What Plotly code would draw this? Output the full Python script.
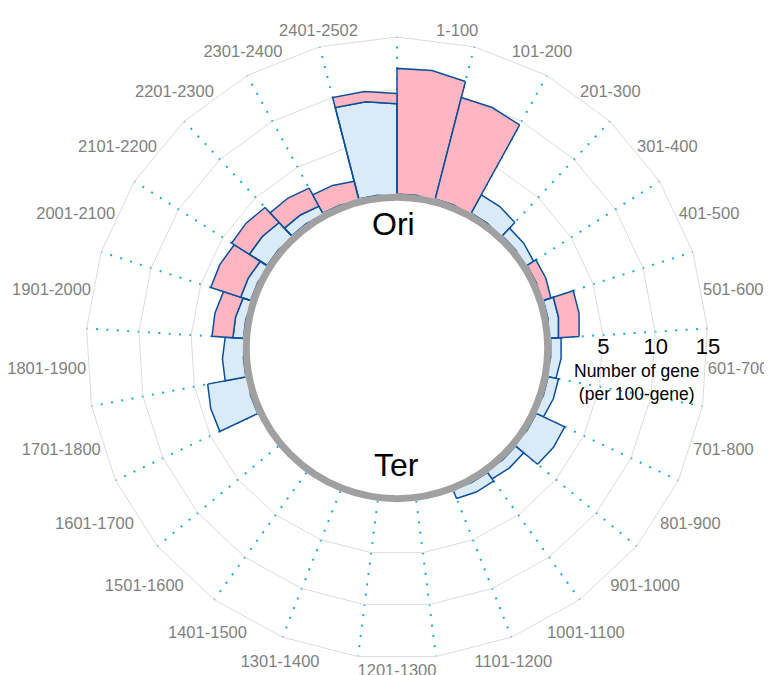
import plotly.graph_objects as go

# ---- data -------------------------------------------------------------
categories = [
    "1-100", "101-200", "201-300", "301-400", "401-500", "501-600",
    "601-700", "701-800", "801-900", "901-1000", "1001-1100", "1101-1200",
    "1201-1300", "1301-1400", "1401-1500", "1501-1600", "1601-1700",
    "1701-1800", "1801-1900", "1901-2000", "2001-2100", "2101-2200",
    "2201-2300", "2301-2400", "2401-2502",
]
blue_counts = [0, 0, 2, 1, 0, 1, 1, 1, 3, 1, 1, 0, 0, 0, 0, 0, 0, 4, 2, 1, 1, 2, 1, 0, 9]
pink_counts = [12, 10, 0, 0, 1, 2, 0, 0, 0, 0, 0, 0, 0, 0, 0, 0, 0, 0, 0, 2, 3, 2, 2, 2, 1]
radial_ticks = [5, 10, 15]
radial_ticktext = ["5", "10", "15"]
radial_range = [0, 15]
axis_title = "Number of gene<br>(per 100-gene)"
ori_label = "Ori"
ter_label = "Ter"

# ---- derived ----------------------------------------------------------
n = len(categories)
step = 360.0 / n
mid_angles = [i * step + step / 2 for i in range(n)]

FONT = "Arial, Liberation Sans, sans-serif"
HOLE = 0.495
DOMAIN = dict(x=[0, 1], y=[0, 1])

fig = go.Figure()

fig.add_trace(go.Barpolar(
    r=blue_counts, theta=categories, subplot="polar",
    offset=0, width=1,
    marker=dict(color="#DAEAF7", line=dict(color="#0B4F9C", width=1.5)),
    hoverinfo="theta+r", name="blue",
))
fig.add_trace(go.Barpolar(
    r=pink_counts, theta=categories, subplot="polar",
    offset=0, width=1,
    marker=dict(color="#FFB6C1", line=dict(color="#0B4F9C", width=1.5)),
    hoverinfo="theta+r", name="pink",
))
# radial tick labels, placed on the east direction of the label polar
fig.add_trace(go.Scatterpolar(
    r=radial_ticks, theta=[90] * len(radial_ticks), subplot="polar2",
    mode="text", text=radial_ticktext,
    textfont=dict(size=22, color="black", family=FONT),
    textposition="middle center", cliponaxis=False, hoverinfo="skip",
))

fig.update_layout(
    width=764, height=667,
    margin=dict(l=78, r=64, t=29, b=16),
    paper_bgcolor="white",
    showlegend=False,
    font=dict(family=FONT),
    polar=dict(
        domain=DOMAIN, hole=HOLE, gridshape="linear", bgcolor="white",
        barmode="stack", bargap=0,
        angularaxis=dict(
            type="category", categoryarray=categories,
            rotation=90, direction="clockwise",
            showgrid=True, gridcolor="#1CA9E0", gridwidth=1.5,
            griddash="2px,8.4px",
            showline=True, linecolor="#DCDCDC", linewidth=1,
            ticks="", showticklabels=False,
        ),
        radialaxis=dict(
            range=radial_range, tickvals=radial_ticks, angle=0,
            showticklabels=False, ticks="", showline=False,
            gridcolor="#DCDCDC", gridwidth=1,
        ),
    ),
    polar2=dict(
        domain=DOMAIN, hole=HOLE, bgcolor="rgba(0,0,0,0)",
        angularaxis=dict(
            type="linear", thetaunit="degrees",
            rotation=90, direction="clockwise",
            tickmode="array", tickvals=mid_angles, ticktext=categories,
            showgrid=False, showline=False, ticks="",
            tickfont=dict(size=16.5, color="#7F7F7F", family=FONT),
        ),
        radialaxis=dict(range=radial_range, visible=False),
    ),
    shapes=[dict(
        type="circle", xref="paper", yref="paper",
        xsizemode="pixel", ysizemode="pixel", xanchor=0.5, yanchor=0.5,
        x0=-150.7, x1=150.7, y0=-150.7, y1=150.7,
        line=dict(color="#A0A0A0", width=7), layer="above",
    )],
    annotations=[
        dict(text=ori_label, xref="paper", yref="paper", x=0.4936, y=0.6994,
             xanchor="center", yanchor="middle", showarrow=False,
             font=dict(size=32, color="black", family=FONT)),
        dict(text=ter_label, xref="paper", yref="paper", x=0.4995, y=0.3119,
             xanchor="center", yanchor="middle", showarrow=False,
             font=dict(size=32, color="black", family=FONT)),
        dict(text=axis_title, xref="paper", yref="paper", x=0.8859, y=0.4445,
             xanchor="center", yanchor="middle", showarrow=False,
             font=dict(size=17.5, color="black", family=FONT)),
    ],
)

fig.write_html("out.html")
